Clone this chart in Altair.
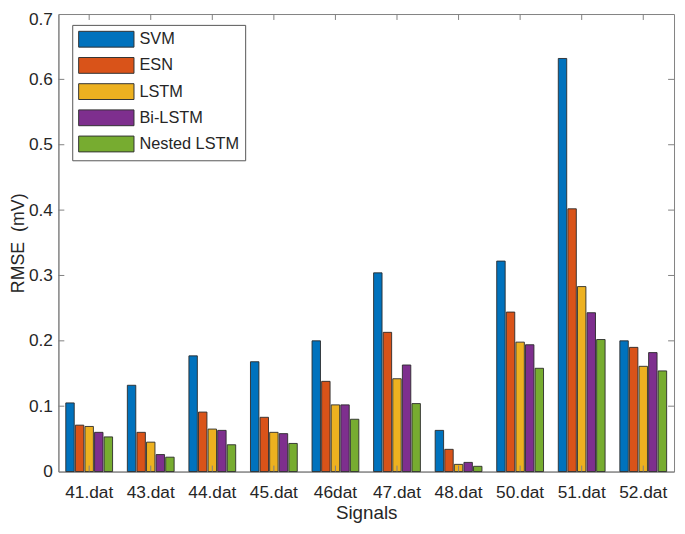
import altair as alt
import pandas as pd

signals = ["41.dat", "43.dat", "44.dat", "45.dat", "46dat", "47.dat", "48.dat", "50.dat", "51.dat", "52.dat"]
methods = ["SVM", "ESN", "LSTM", "Bi-LSTM", "Nested LSTM"]
svm = [0.105, 0.132, 0.177, 0.168, 0.200, 0.304, 0.063, 0.322, 0.632, 0.200]
esn = [0.071, 0.060, 0.091, 0.083, 0.138, 0.213, 0.034, 0.244, 0.402, 0.190]
lstm = [0.069, 0.045, 0.065, 0.060, 0.102, 0.142, 0.011, 0.198, 0.283, 0.161]
bilstm = [0.060, 0.026, 0.063, 0.058, 0.102, 0.163, 0.014, 0.194, 0.243, 0.182]
nested = [0.053, 0.022, 0.041, 0.043, 0.080, 0.104, 0.008, 0.158, 0.202, 0.154]
colors = ["#0072BD", "#D95319", "#EDB120", "#7E2F8E", "#77AC30"]
y_ticks = [0, 0.1, 0.2, 0.3, 0.4, 0.5, 0.6, 0.7]

series = [svm, esn, lstm, bilstm, nested]
rows = []
for m, vals in zip(methods, series):
    for s, v in zip(signals, vals):
        rows.append({"signal": s, "method": m, "rmse": v})
df = pd.DataFrame(rows)
df_sig = pd.DataFrame({"signal": signals})
df_y = pd.DataFrame({"v": y_ticks[1:-1]})

TOP = 3
W, H = 623, 466 - TOP
FONT = "Liberation Sans"
AXC = "#808080"
TXT = "#262626"

xscale = alt.Scale(domain=signals, paddingInner=0.24, paddingOuter=0.12)
yscale = alt.Scale(domain=[0, 0.7], nice=False)

bars = alt.Chart(df).mark_bar(stroke="#2a2a2a", strokeWidth=0.9, opacity=1).encode(
    x=alt.X("signal:N", scale=xscale, sort=signals,
            axis=alt.Axis(title="Signals", labelAngle=0, ticks=False, labelPadding=12,
                          titlePadding=3, labelFontSize=17.5, titleFontSize=19,
                          labelFont=FONT, titleFont=FONT, titleFontWeight="normal",
                          domainColor=AXC, labelColor=TXT, titleColor=TXT)),
    xOffset=alt.XOffset("method:N", scale=alt.Scale(domain=methods, paddingInner=0.12)),
    y=alt.Y("rmse:Q", scale=yscale,
            axis=alt.Axis(title="RMSE\u00a0 (mV)", values=y_ticks, format="~g", ticks=False,
                          grid=False, labelPadding=6, titlePadding=1, labelFontSize=17.5,
                          labelOffset={"condition": {"test": "datum.value >= 0.7", "value": 6}, "value": 0},
                          titleFontSize=18, labelFont=FONT, titleFont=FONT,
                          titleFontWeight="normal", domainColor=AXC,
                          labelColor=TXT, titleColor=TXT)),
    color=alt.Color("method:N", scale=alt.Scale(domain=methods, range=colors),
                    legend=alt.Legend(orient="none", legendX=14, legendY=14 - TOP, title=None,
                                      symbolType="M-3.5,-1H3.5V1H-3.5Z",
                                      symbolSize=256, symbolOffset=20,
                                      symbolStrokeColor="#333333",
                                      symbolStrokeWidth=1, symbolOpacity=1,
                                      labelFontSize=16.5, labelFont=FONT, labelColor=TXT,
                                      padding=6, rowPadding=5.5, strokeColor="#555555",
                                      fillColor="white", labelOffset=25)),
)

ytick_l = alt.Chart(df_y).mark_rule(color=AXC, strokeWidth=1).encode(
    y=alt.Y("v:Q", scale=yscale), x=alt.value(0), x2=alt.value(6))
ytick_r = alt.Chart(df_y).mark_rule(color=AXC, strokeWidth=1).encode(
    y=alt.Y("v:Q", scale=yscale), x=alt.value(W - 6), x2=alt.value(W))
xtick_b = alt.Chart(df_sig).mark_rule(color=AXC, strokeWidth=1).encode(
    x=alt.X("signal:N", scale=xscale, sort=signals, bandPosition=0.5),
    y=alt.value(H), y2=alt.value(H - 6))
xtick_t = alt.Chart(df_sig).mark_rule(color=AXC, strokeWidth=1).encode(
    x=alt.X("signal:N", scale=xscale, sort=signals, bandPosition=0.5),
    y=alt.value(0), y2=alt.value(6))

chart = alt.layer(bars, ytick_l, ytick_r, xtick_b, xtick_t).properties(
    width=W, height=H,
    autosize=alt.AutoSizeParams(type="none"),
    padding={"left": 51, "top": TOP, "right": 3, "bottom": 52},
).configure_view(stroke=AXC, strokeWidth=1).configure_axis(grid=False)

chart.save("out.html", embed_options={"renderer": "svg", "actions": False})
